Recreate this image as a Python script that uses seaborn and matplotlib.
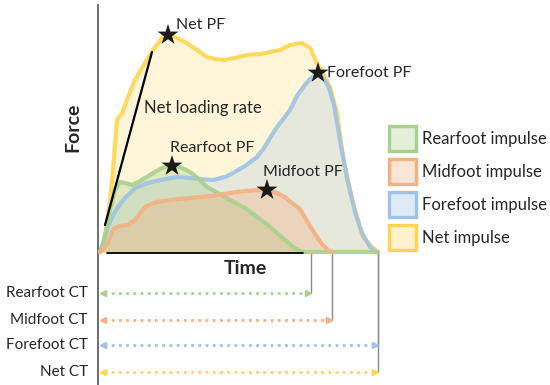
import numpy as np
import pandas as pd
import matplotlib
matplotlib.use("Agg")
import matplotlib.pyplot as plt
import seaborn as sns
from matplotlib.patches import Patch

# ---------------- data (schematic, arbitrary units) ----------------
net_t = [0, 3, 7, 10, 13, 17, 22, 28, 35, 45, 53, 62, 68, 75, 87, 97, 107, 115, 123, 135,
         147, 160, 170, 180, 190, 202, 210, 217, 223, 230, 237, 243, 250, 257, 263, 272, 278]
net_F = [0, 7, 29, 52, 82, 132, 139, 155, 172, 189, 202, 214, 217, 215, 209, 202, 195, 193, 192, 194,
         197, 198, 200, 202, 207, 209, 204, 189, 179, 165, 139, 95, 62, 35, 15, 5, 0]

fore_t = [0, 4, 8, 13, 18, 25, 35, 45, 52, 65, 78, 90, 100, 113, 125, 133, 145, 157, 164, 170,
          177, 184, 190, 197, 204, 210, 218, 224, 229, 234, 240, 247, 255, 262, 270, 276]
fore_F = [0, 12, 25, 37, 45, 54, 64, 68, 70, 73, 75, 74, 73, 72, 75, 79, 86, 95, 104, 114,
          125, 134, 142, 156, 166, 173, 179, 173, 164, 147, 112, 74, 40, 19, 5, 0]

rear_t = [0, 2, 5, 10, 15, 20, 25, 32, 40, 45, 55, 62, 72, 80, 90, 100, 107, 118, 130, 145,
          157, 168, 177, 185, 193, 200, 205, 278]
rear_F = [0, 4, 15, 42, 62, 70, 69, 67, 71, 74, 80, 84, 87, 85, 80, 72, 65, 59, 52, 44,
          35, 27, 19, 12, 5, 1, 0, 0]

mid_t = [0, 4, 8, 13, 20, 28, 35, 45, 57, 70, 90, 110, 130, 145, 157, 167, 177, 185, 192, 200,
         210, 217, 222, 228, 232]
mid_F = [0, 4, 9, 23, 26, 27, 32, 45, 50, 52, 54, 56, 59, 61, 62, 62, 59, 55, 49, 43,
         26, 15, 8, 2, 0]

# peak forces
pf_labels = ["Net PF", "Rearfoot PF", "Midfoot PF", "Forefoot PF"]
pf_t = [68, 72, 167, 218]
pf_F = [217, 86, 62, 179]

# net loading rate line
lr_t = [5, 52]
lr_F = [27, 200]

# contact times
ct_labels = ["Rearfoot CT", "Midfoot CT", "Forefoot CT", "Net CT"]
ct_end = [211, 232, 278, 278]

legend_labels = ["Rearfoot impulse", "Midfoot impulse", "Forefoot impulse", "Net impulse"]

# ---------------- styling ----------------
c_rear = "#A9D18E"
c_mid = "#F4B183"
c_fore = "#9DC3E6"
c_net = "#FFD54F"

sns.set_theme(style="white")
plt.rcParams["font.family"] = ["Lato", "DejaVu Sans"]

fig = plt.figure(figsize=(5.5, 3.85), dpi=100)
ax = fig.add_axes([0, 0, 1, 1])
ax.set_xlim(-100, 450)
ax.set_ylim(-133, 252)
ax.set_facecolor("white")

# fills
ax.fill_between(net_t, net_F, color="#FFD966", alpha=0.25, lw=0, zorder=1)
ax.fill_between(fore_t, fore_F, color=c_fore, alpha=0.25, lw=0, zorder=2)
ax.fill_between(rear_t, rear_F, color=c_rear, alpha=0.35, lw=0, zorder=3)
ax.fill_between(mid_t, mid_F, color=c_mid, alpha=0.35, lw=0, zorder=4)

# lines via seaborn
df = pd.concat([
    pd.DataFrame({"time": net_t, "force": net_F, "part": "Net"}),
    pd.DataFrame({"time": fore_t, "force": fore_F, "part": "Forefoot"}),
    pd.DataFrame({"time": rear_t, "force": rear_F, "part": "Rearfoot"}),
    pd.DataFrame({"time": mid_t, "force": mid_F, "part": "Midfoot"}),
], ignore_index=True)
sns.lineplot(data=df, x="time", y="force", hue="part", estimator=None, sort=False,
             palette={"Net": c_net, "Forefoot": c_fore, "Rearfoot": c_rear, "Midfoot": c_mid},
             linewidth=3, alpha=0.9, legend=False, ax=ax, zorder=5)

# loading rate line
ax.plot(lr_t, lr_F, color="black", lw=1.6, zorder=7)
ax.text(44, 144, "Net loading rate", fontsize=12, va="center", ha="left", zorder=8)

# peak stars
sns.scatterplot(x=pf_t, y=pf_F, marker="*", s=250, color="#1a1a1a", edgecolor="none",
                ax=ax, zorder=9, legend=False)
pf_text_pos = [(76, 227), (70, 104), (163, 80), (227, 179)]
for lab, (tx, ty) in zip(pf_labels, pf_text_pos):
    ax.text(tx, ty, lab, fontsize=11.5, va="center", ha="left", zorder=9)

# baseline
ax.plot([7, 203], [-1, -1], color="black", lw=1.3, zorder=6)

# y axis spine
for s in ["top", "right", "bottom"]:
    ax.spines[s].set_visible(False)
ax.spines["left"].set_position(("data", -2))
ax.spines["left"].set_bounds(-133, 247)
ax.spines["left"].set_color("#555555")
ax.spines["left"].set_linewidth(1.2)
ax.set_xticks([])
ax.set_yticks([])
ax.set_xlabel("")
ax.set_ylabel("")

ax.text(-27, 125, "Force", rotation=90, fontsize=14, fontweight="bold", ha="center", va="center")
ax.text(145, -17, "Time", fontsize=14, fontweight="bold", ha="center", va="center")

# contact time rows
ct_y = [-41, -68, -93, -120]
ct_cols = [c_rear, c_mid, c_fore, c_net]
for lab, te, yy, cc in zip(ct_labels, ct_end, ct_y, ct_cols):
    ax.plot([te, te], [0, yy], color="#8c8c8c", lw=1.0, zorder=2)
    ax.plot([4, te - 4], [yy, yy], color=cc, lw=2, linestyle=(0, (1, 1.6)), zorder=3)
    ax.plot([3], [yy], marker="<", ms=5, color=cc, zorder=4)
    ax.plot([te - 3], [yy], marker=">", ms=5, color=cc, zorder=4)
    ax.text(-12, yy, lab, fontsize=11, ha="right", va="center")

# legend
fills = ["#E2EFD9", "#FBE5D6", "#DEEBF7", "#FFF2CC"]
handles = [Patch(facecolor=f, edgecolor=c, linewidth=2.4)
           for f, c in zip(fills, [c_rear, c_mid, c_fore, c_net])]
ax.legend(handles, legend_labels, loc="upper left", bbox_to_anchor=(389 / 550, 1 - 126 / 385),
          bbox_transform=fig.transFigure, frameon=False, fontsize=12,
          handlelength=1.6, handleheight=1.93, labelspacing=0.48, handletextpad=0.35,
          borderpad=0, borderaxespad=0)

fig.savefig("out.png", dpi=100)
